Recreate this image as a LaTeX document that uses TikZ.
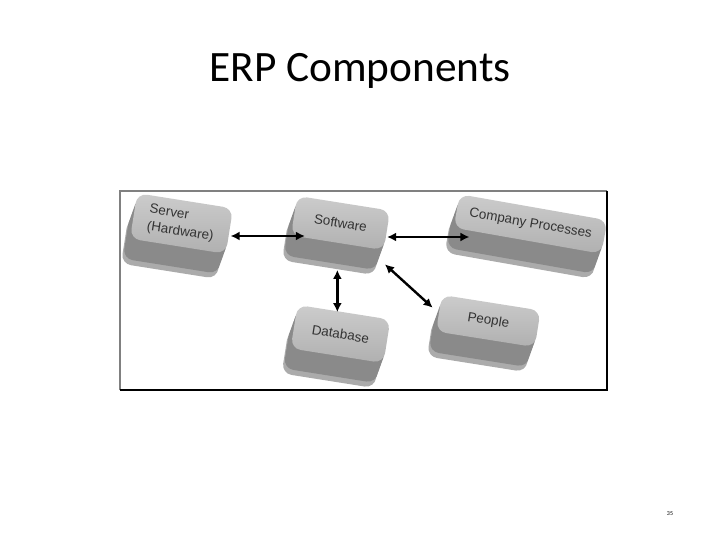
\documentclass[tikz,border=0pt]{standalone}
\usepackage{fontspec}
\setmainfont{Carlito}
\newfontfamily\labelfont{Liberation Sans}
\usetikzlibrary{arrows.meta,shadows}

\begin{document}
\begin{tikzpicture}[
    x=1bp, y=-1bp,
    block/.style 2 args={rectangle, rounded corners=10bp, rotate=-9, minimum width=#1, minimum height=#2,
      top color=black!20, bottom color=black!31, text=black!80, font=\labelfont\fontsize{13.5}{17.5}\selectfont,
      general shadow={fill=black!33, shadow xshift=-9bp, shadow yshift=-25bp},
      general shadow={fill=black!46, shadow xshift=-7.2bp, shadow yshift=-20bp},
      general shadow={fill=black!46, shadow xshift=-5.4bp, shadow yshift=-15bp},
      general shadow={fill=black!46, shadow xshift=-3.6bp, shadow yshift=-10bp},
      general shadow={fill=black!46, shadow xshift=-1.8bp, shadow yshift=-5bp}},
    link/.style={line width=2.4bp, {Latex[length=9bp,width=9bp]}-{Latex[length=9bp,width=9bp]}}
  ]
  \useasboundingbox (0,0) rectangle (720,540);

  \node[font=\fontsize{43.5}{52}\selectfont, anchor=base] (title) at (360,82) {ERP Components};

  % frame round the figure
  \draw[black!50, line width=1.2bp] (120,390) -- (120,191) -- (607,191);
  \draw[black, line width=2.4bp] (607,191) -- (607,390) -- (120,390);

  \node[block={97bp}{46bp}, align=left] (server) at (181.5,223.5) {Server\\(Hardware)};
  \node[block={94bp}{40bp}] (software) at (340.5,223) {Software};
  \node[block={150bp}{34bp}, rotate=-1] (company) at (530.5,224) {Company Processes};
  \node[block={94bp}{44bp}] (database) at (340.5,334) {Database};
  \node[block={100bp}{37bp}] (people) at (488.3,321) {People};

  % links between the blocks
  \draw[link, shorten <=1bp, shorten >=-11bp] (server.east |- 0,236) -- (software.west |- 0,236);
  \draw[link, shorten >=-13bp] (software.east |- 0,237) -- (company.west |- 0,237);
  \draw[link, shorten <=27bp] (software.south) -- (software.south |- database.north);
  \draw[link] ([shift={(1,14)}]software.south east) -- ([shift={(-9,13)}]people.north west);

  \node[font=\fontsize{6}{7}\selectfont] (pagenum) at (670,514) {35};
\end{tikzpicture}
\end{document}
